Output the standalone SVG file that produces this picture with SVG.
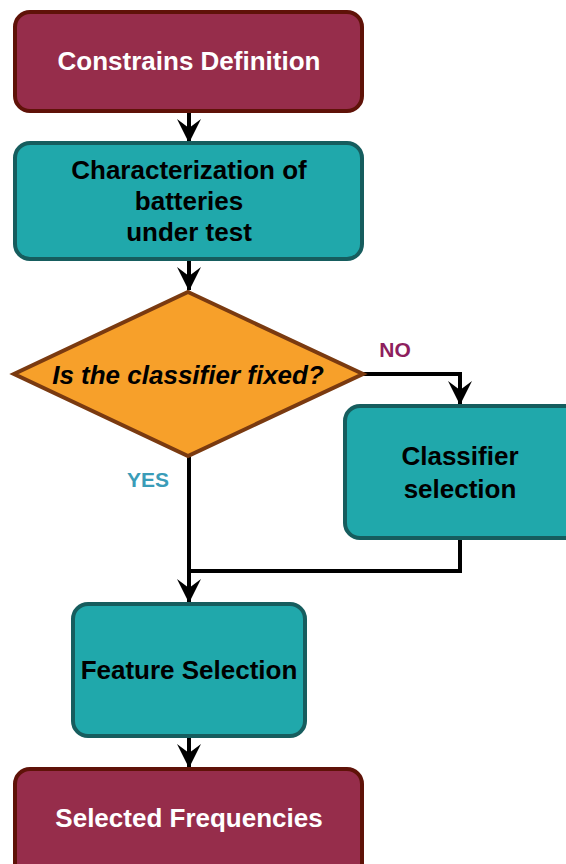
<svg xmlns="http://www.w3.org/2000/svg" width="566" height="864" viewBox="0 0 566 864">
  <style>
    .term { fill: #962d4b; stroke: #5f1208; stroke-width: 4; }
    .proc { fill: #20a8ab; stroke: #165d5e; stroke-width: 4; }
    .dec { fill: #f7a02a; stroke: #7a3a10; stroke-width: 4; }
    .lbl { font-family: "Liberation Sans", Arial, sans-serif; font-weight: bold; text-anchor: middle; }
    .wt { fill: #ffffff; font-size: 26px; }
    .bk { fill: #000000; font-size: 26px; }
    .edge { fill: none; stroke: #000000; stroke-width: 4; }
  </style>
  <defs>
    <marker id="arr" viewBox="0 0 24 24" refX="23" refY="12" markerWidth="24" markerHeight="24" markerUnits="userSpaceOnUse" orient="auto">
      <path d="M0,0 L24,12 L0,24 L9,12 Z" fill="#000000"/>
    </marker>
  </defs>
  <rect width="566" height="864" fill="#ffffff"/>

  <g id="connectors">
    <path class="edge" d="M189,112 V142" marker-end="url(#arr)"/>
    <path class="edge" d="M189,260 V290" marker-end="url(#arr)"/>
    <path class="edge" d="M363,374 H460 V404" marker-end="url(#arr)"/>
    <path class="edge" d="M460,539 V571 H189"/>
    <path class="edge" d="M189,457 V602" marker-end="url(#arr)"/>
    <path class="edge" d="M189,737 V767" marker-end="url(#arr)"/>
    <text class="lbl" x="395" y="357" font-size="21" fill="#8e1f5e">NO</text>
    <text class="lbl" x="148" y="487" font-size="21" fill="#3a9cb8">YES</text>
  </g>

  <g id="constraints">
    <rect class="term" x="15" y="12" width="347" height="99" rx="15"/>
    <text class="lbl wt" x="189" y="70">Constrains Definition</text>
  </g>

  <g id="characterization">
    <rect class="proc" x="15" y="143" width="347" height="116" rx="15"/>
    <text class="lbl bk" x="189" y="179">Characterization of</text>
    <text class="lbl bk" x="189" y="210">batteries</text>
    <text class="lbl bk" x="189" y="241">under test</text>
  </g>

  <g id="decision">
    <polygon class="dec" points="188,292 363,374 188,456 14,374"/>
    <text class="lbl bk" x="188" y="384" font-style="italic">Is the classifier fixed?</text>
  </g>

  <g id="classifier">
    <rect class="proc" x="345" y="406" width="235" height="132" rx="15"/>
    <text class="lbl bk" x="460" y="465">Classifier</text>
    <text class="lbl bk" x="460" y="498">selection</text>
  </g>

  <g id="feature">
    <rect class="proc" x="73" y="604" width="232" height="132" rx="15"/>
    <text class="lbl bk" x="189" y="679">Feature Selection</text>
  </g>

  <g id="frequencies">
    <rect class="term" x="15" y="769" width="347" height="110" rx="15"/>
    <text class="lbl wt" x="189" y="827">Selected Frequencies</text>
  </g>
</svg>
